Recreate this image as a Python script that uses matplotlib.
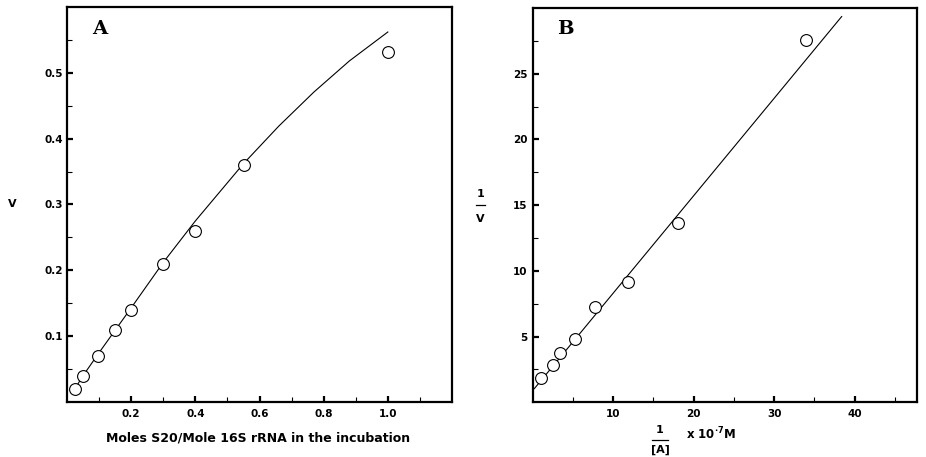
import numpy as np
import matplotlib.pyplot as plt
from matplotlib.lines import Line2D
from matplotlib.ticker import FixedLocator

# Panel A: binding data
a_x = [0.024, 0.05, 0.098, 0.149, 0.199, 0.298, 0.398, 0.552, 1.0]
a_y = [0.02, 0.04, 0.07, 0.11, 0.14, 0.21, 0.259, 0.36, 0.531]
# fitted curve
a_curve_x = [0.018, 0.05, 0.1, 0.15, 0.2, 0.3, 0.4, 0.55, 0.66, 0.77, 0.88, 1.0]
a_curve_y = [0.015, 0.04, 0.075, 0.109, 0.143, 0.212, 0.275, 0.362, 0.419, 0.471, 0.518, 0.562]

# Panel B: double reciprocal data
b_x = [1.0, 2.5, 3.4, 5.2, 7.8, 11.9, 18.0, 34.0]
b_y = [1.84, 2.83, 3.78, 4.82, 7.26, 9.12, 13.65, 27.54]
b_line_x = [0.2, 38.4]
b_line_y = [1.04, 29.35]

tick_font = dict(family='DejaVu Sans', weight='bold', size=7.5)

fig = plt.figure(figsize=(9.26, 4.57), dpi=100)
axA = fig.add_axes([0.0724, 0.1204, 0.4157, 0.8643])
axB = fig.add_axes([0.5753, 0.1197, 0.4153, 0.8628])

for ax in (axA, axB):
    for s in ax.spines.values():
        s.set_linewidth(1.6)
    ax.tick_params(which='major', direction='in', length=4, width=1.6, top=False, right=False)
    ax.tick_params(which='minor', direction='in', length=3.5, width=0.8, top=False, right=False)

# ---- A ----
axA.plot(a_curve_x, a_curve_y, color='black', lw=0.8)
axA.plot(a_x, a_y, 'o', ms=8.5, mfc='white', mec='black', mew=0.8, zorder=3)
axA.set_xlim(0, 1.2)
axA.set_ylim(0, 0.6)
axA.xaxis.set_major_locator(FixedLocator([0.2, 0.4, 0.6, 0.8, 1.0]))
axA.xaxis.set_minor_locator(FixedLocator([0.1, 0.3, 0.5, 0.7, 0.9, 1.1]))
axA.yaxis.set_major_locator(FixedLocator([0.1, 0.2, 0.3, 0.4, 0.5]))
axA.yaxis.set_minor_locator(FixedLocator([0.05, 0.15, 0.25, 0.35, 0.45, 0.55]))
axA.set_xticklabels(['0.2', '0.4', '0.6', '0.8', '1.0'], fontdict=tick_font)
axA.set_yticklabels(['0.1', '0.2', '0.3', '0.4', '0.5'], fontdict=tick_font)
axA.tick_params(axis='x', pad=5)
axA.tick_params(axis='y', pad=3)
axA.text(0.084, 0.945, 'A', transform=axA.transAxes, fontsize=14, weight='bold',
         family='DejaVu Serif', ha='center', va='center')

fig.text(12 / 926, 1 - 204 / 457, 'V', fontsize=8, weight='bold', ha='center', va='center')
fig.text(258 / 926, 1 - 438 / 457, 'Moles S20/Mole 16S rRNA in the incubation',
         fontsize=9, weight='bold', ha='center', va='center')

# ---- B ----
axB.plot(b_line_x, b_line_y, color='black', lw=0.8)
axB.plot(b_x, b_y, 'o', ms=8.5, mfc='white', mec='black', mew=0.8, zorder=3)
axB.set_xlim(0, 47.8)
axB.set_ylim(0, 30)
axB.xaxis.set_major_locator(FixedLocator([10, 20, 30, 40]))
axB.xaxis.set_minor_locator(FixedLocator([5, 15, 25, 35, 45]))
axB.yaxis.set_major_locator(FixedLocator([5, 10, 15, 20, 25]))
axB.yaxis.set_minor_locator(FixedLocator([2.5, 7.5, 12.5, 17.5, 22.5, 27.5]))
axB.set_xticklabels(['10', '20', '30', '40'], fontdict=tick_font)
axB.set_yticklabels(['5', '10', '15', '20', '25'], fontdict=tick_font)
axB.tick_params(axis='x', pad=5)
axB.tick_params(axis='y', pad=4)
axB.text(0.084, 0.946, 'B', transform=axB.transAxes, fontsize=14, weight='bold',
         family='DejaVu Serif', ha='center', va='center')

# y label 1/V as a fraction
fig.text(480.5 / 926, 1 - 194 / 457, '1', fontsize=8, weight='bold', ha='center', va='center')
fig.add_artist(Line2D([476 / 926, 485 / 926], [1 - 205 / 457] * 2, color='black', lw=0.9,
                      transform=fig.transFigure))
fig.text(480.5 / 926, 1 - 219 / 457, 'V', fontsize=8, weight='bold', ha='center', va='center')

# x label 1/[A] x 10^-7 M
fig.text(660 / 926, 1 - 430 / 457, '1', fontsize=8, weight='bold', ha='center', va='center')
fig.add_artist(Line2D([652 / 926, 668 / 926], [1 - 440 / 457] * 2, color='black', lw=0.9,
                      transform=fig.transFigure))
fig.text(660 / 926, 1 - 450 / 457, '[A]', fontsize=8, weight='bold', ha='center', va='center')
fig.text(686 / 926, 1 - 434 / 457, r'x 10$^{\mathbf{\cdot 7}}$M', fontsize=8.5, weight='bold',
         ha='left', va='center')

fig.savefig('out.png', dpi=100)
